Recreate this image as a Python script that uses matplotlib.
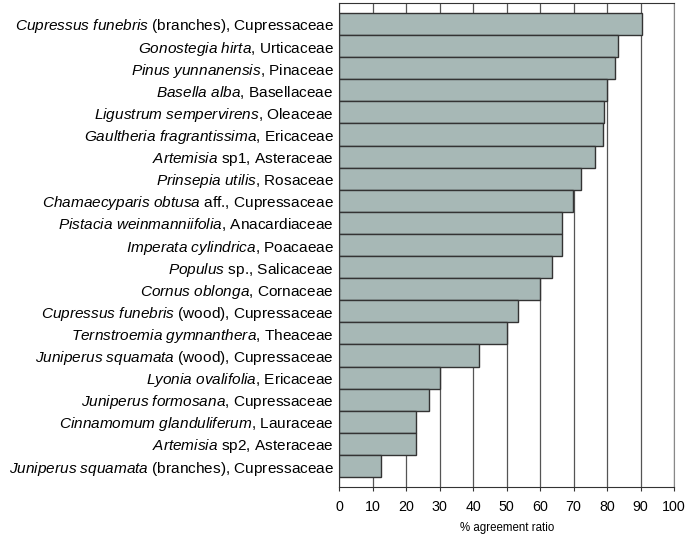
import numpy as np
import matplotlib.pyplot as plt

plt.rcParams['font.family'] = 'Liberation Sans'
plt.rcParams['mathtext.fontset'] = 'custom'
plt.rcParams['mathtext.rm'] = 'Liberation Sans'
plt.rcParams['mathtext.it'] = 'Liberation Sans:italic'

# データ (上から順)
genus = ["Cupressus funebris", "Gonostegia hirta", "Pinus yunnanensis", "Basella alba",
         "Ligustrum sempervirens", "Gaultheria fragrantissima", "Artemisia", "Prinsepia utilis",
         "Chamaecyparis obtusa", "Pistacia weinmanniifolia", "Imperata cylindrica", "Populus",
         "Cornus oblonga", "Cupressus funebris", "Ternstroemia gymnanthera", "Juniperus squamata",
         "Lyonia ovalifolia", "Juniperus formosana", "Cinnamomum glanduliferum", "Artemisia",
         "Juniperus squamata"]
rest = [" (branches), Cupressaceae", ", Urticaceae", ", Pinaceae", ", Basellaceae",
        ", Oleaceae", ", Ericaceae", " sp1, Asteraceae", ", Rosaceae",
        " aff., Cupressaceae", ", Anacardiaceae", ", Poacaeae", " sp., Salicaceae",
        ", Cornaceae", " (wood), Cupressaceae", ", Theaceae", " (wood), Cupressaceae",
        ", Ericaceae", ", Cupressaceae", ", Lauraceae", " sp2, Asteraceae",
        " (branches), Cupressaceae"]
ratio = [90.5, 83.4, 82.3, 79.9, 79.2, 78.9, 76.5, 72.1, 69.9, 66.6, 66.6,
         63.6, 60.0, 53.3, 50.0, 41.7, 30.0, 26.7, 23.0, 23.0, 12.5]

labels = [r"$\mathit{" + g.replace(" ", r"\ ") + "}$" + r for g, r in zip(genus, rest)]
y = np.arange(len(ratio))

fig = plt.figure(figsize=(6.85, 5.36), dpi=100)
ax = fig.add_axes([0.4954, 0.0914, 0.4886, 0.903])
ax.barh(y, ratio, height=1.0, color="#a7b8b6", edgecolor="#333333", linewidth=1.0, zorder=2)
ax.set_xlim(0, 100)
ax.set_ylim(20.95, -0.95)
ax.set_xticks(np.arange(0, 101, 10))
ax.set_yticks(y)
ax.set_yticklabels(labels, fontsize=11.1)
ax.tick_params(axis="y", length=0, pad=4)
ax.tick_params(axis="x", length=3, labelsize=10.3, color="#333333", pad=6)
ax.grid(axis="x", color="#555555", linewidth=0.9, zorder=0)
ax.set_axisbelow(True)
for s in ax.spines.values():
    s.set_color("#333333")
ax.spines["right"].set_color("#888888")
ax.set_xlabel("% agreement ratio", fontsize=8.3, labelpad=6)

plt.savefig("out.png", dpi=100)
